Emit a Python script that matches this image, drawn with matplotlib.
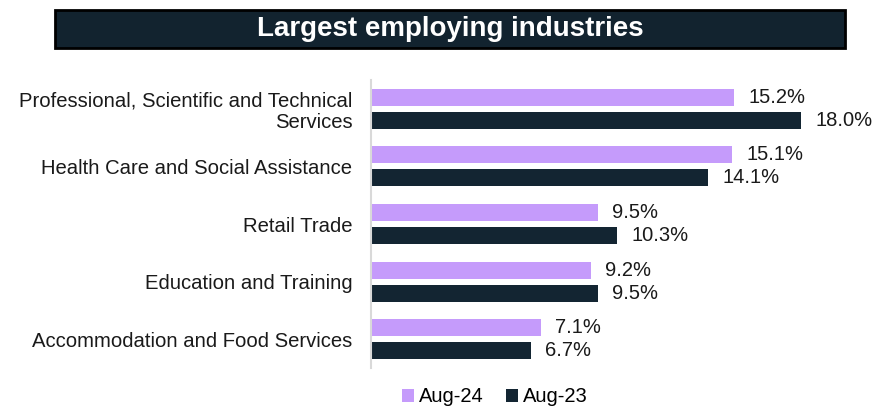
import matplotlib
matplotlib.use("Agg")
import matplotlib.pyplot as plt
import numpy as np
from matplotlib.patches import Rectangle

categories = ["Professional, Scientific and Technical\nServices",
              "Health Care and Social Assistance",
              "Retail Trade",
              "Education and Training",
              "Accommodation and Food Services"]
aug24 = [15.2, 15.1, 9.5, 9.2, 7.1]
aug23 = [18.0, 14.1, 10.3, 9.5, 6.7]
series_names = ["Aug-24", "Aug-23"]
colors = ["#C59BFB", "#132532"]

plt.rcParams['font.family'] = ['Liberation Sans', 'DejaVu Sans']

fig = plt.figure(figsize=(8.76, 4.08), dpi=100)
ax = fig.add_axes([371/876, 1-368/408, 478/876, (368-80)/408])

y = np.arange(len(categories))
h = 0.295
b1 = ax.barh(y - 0.2, aug24, height=h, color=colors[0], label=series_names[0])
b2 = ax.barh(y + 0.2, aug23, height=h, color=colors[1], label=series_names[1])
for bars, vals in ((b1, aug24), (b2, aug23)):
    for r, v in zip(bars, vals):
        ax.text(r.get_width() + 0.6, r.get_y() + r.get_height()/2, f"{v:.1f}%",
                va="center", ha="left", fontsize=14.5, color="#1a1a1a")

ax.set_ylim(len(categories) - 0.5, -0.5)
ax.set_xlim(0, 20)
ax.set_yticks(y)
ax.set_yticklabels(categories, fontsize=14.6, ha="right", multialignment="right",
                   color="#1a1a1a", linespacing=1.15)
ax.tick_params(axis="y", length=0, pad=13.5)
ax.set_xticks([])
for s in ["top", "right", "bottom"]:
    ax.spines[s].set_visible(False)
ax.spines["left"].set_color("#D9D9D9")
ax.spines["left"].set_linewidth(1.5)

# Title banner
fig.patches.append(Rectangle((55/876, 1-48/408), 790/876, 38/408, transform=fig.transFigure,
                             facecolor="#12232F", edgecolor="black", linewidth=2))
fig.text(450/876, 1-29/408, "Largest employing industries", ha="center", va="center",
         fontsize=20, fontweight="bold", color="white")

fig.legend(handles=[b1, b2], labels=series_names, loc="center", bbox_to_anchor=(495/876, 1-397/408),
           ncol=2, frameon=False, fontsize=14.5, handlelength=0.6, handleheight=0.6,
           handletextpad=0.25, columnspacing=1.1)

fig.savefig("out.png", dpi=100)
